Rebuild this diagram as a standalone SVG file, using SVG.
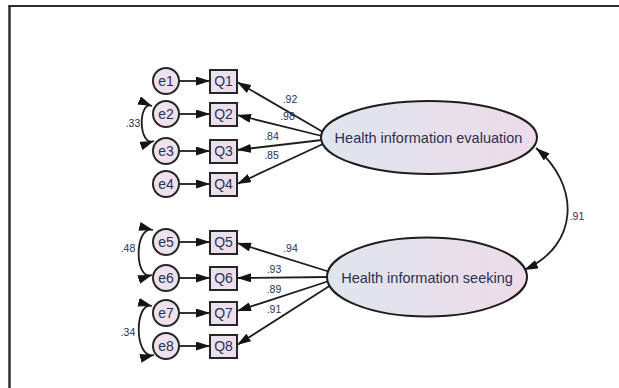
<svg xmlns="http://www.w3.org/2000/svg" width="619" height="388" viewBox="0 0 619 388">
<style>
.obs{fill:url(#gq);stroke:#262626;stroke-width:2}
.err{fill:url(#ge);stroke:#262626;stroke-width:2}
.lat{fill:url(#gl);stroke:#1e1e1e;stroke-width:2}
.nt{font-family:"Liberation Sans",Arial,sans-serif;font-size:14px;fill:#2b3050;text-anchor:middle}
.lt{font-family:"Liberation Sans",Arial,sans-serif;font-size:14.5px;fill:#2b3050;text-anchor:middle}
.el{font-family:"Liberation Sans",Arial,sans-serif;font-size:10.5px;fill:#2b3050;text-anchor:middle}
.cn{fill:none;stroke:#1e1e1e;stroke-width:1.8}
.ar{marker-end:url(#ah)}
.cv{marker-start:url(#ah);marker-end:url(#ah)}
</style>
<defs>
<linearGradient id="gl" x1="0" y1="0" x2="1" y2="0">
<stop offset="0" stop-color="#dfe6ee"/>
<stop offset="1" stop-color="#eddbe9"/>
</linearGradient>
<linearGradient id="gq" x1="0" y1="0" x2="1" y2="0">
<stop offset="0" stop-color="#e7e2ee"/>
<stop offset="1" stop-color="#efdeeb"/>
</linearGradient>
<linearGradient id="ge" x1="0" y1="0" x2="1" y2="0">
<stop offset="0" stop-color="#ece3ef"/>
<stop offset="1" stop-color="#f0e0ee"/>
</linearGradient>
<marker id="ah" viewBox="0 0 14 9" refX="14" refY="4.5" markerWidth="14" markerHeight="9" markerUnits="userSpaceOnUse" orient="auto-start-reverse">
<path d="M0,0 L14,4.5 L0,9 z" fill="#141414"/>
</marker>
</defs>
<rect x="0" y="0" width="619" height="388" fill="#ffffff"/>
<g id="frame" fill="none" stroke="#2e2e2e">
<line x1="8.5" y1="6" x2="619" y2="6" stroke-width="2"/>
<line x1="9.5" y1="5" x2="9.5" y2="388" stroke-width="2.5"/>
</g>
<g id="connectors">
<path class="cn ar" d="M179,81 L210,81"/>
<path class="cn ar" d="M179,114 L210,114"/>
<path class="cn ar" d="M179,151 L210,151"/>
<path class="cn ar" d="M179,184 L210,184"/>
<path class="cn ar" d="M179,242 L210,242"/>
<path class="cn ar" d="M179,278 L210,278"/>
<path class="cn ar" d="M179,313 L210,313"/>
<path class="cn ar" d="M179,346 L210,346"/>
<path class="cn ar" d="M323,132 L237,82"/>
<path class="cn ar" d="M322,136 L237,115"/>
<path class="cn ar" d="M322,140 L237,150"/>
<path class="cn ar" d="M323,144 L237,184"/>
<path class="cn ar" d="M330,272 L237,243"/>
<path class="cn ar" d="M329,277 L237,278"/>
<path class="cn ar" d="M329,281 L237,311"/>
<path class="cn ar" d="M331,285 L237,345"/>
<path class="cn cv" d="M152,106 C138,100 138,147 154,141"/>
<path class="cn cv" d="M153,230 C134,225 134,281 152,275"/>
<path class="cn cv" d="M152,306 C134,301 134,360 154,355"/>
<path class="cn cv" d="M536,148 C580,185 580,245 524,270"/>
<text class="el" x="290" y="102.5">.92</text>
<text class="el" x="287.5" y="120">.98</text>
<text class="el" x="271.5" y="140">.84</text>
<text class="el" x="271.5" y="159">.85</text>
<text class="el" x="133" y="127">.33</text>
<text class="el" x="290.5" y="252">.94</text>
<text class="el" x="274" y="273">.93</text>
<text class="el" x="274" y="292.5">.89</text>
<text class="el" x="274" y="312.5">.91</text>
<text class="el" x="128" y="251.5">.48</text>
<text class="el" x="128" y="336">.34</text>
<text class="el" x="577" y="220">.91</text>
</g>
<g id="e1"><circle class="err" cx="166" cy="81" r="13"/><text class="nt" x="166" y="86">e1</text></g>
<g id="e2"><circle class="err" cx="166" cy="114" r="13"/><text class="nt" x="166" y="119">e2</text></g>
<g id="e3"><circle class="err" cx="166" cy="151" r="13"/><text class="nt" x="166" y="156">e3</text></g>
<g id="e4"><circle class="err" cx="166" cy="184" r="13"/><text class="nt" x="166" y="189">e4</text></g>
<g id="e5"><circle class="err" cx="166" cy="242" r="13"/><text class="nt" x="166" y="247">e5</text></g>
<g id="e6"><circle class="err" cx="166" cy="278" r="13"/><text class="nt" x="166" y="283">e6</text></g>
<g id="e7"><circle class="err" cx="166" cy="313" r="13"/><text class="nt" x="166" y="318">e7</text></g>
<g id="e8"><circle class="err" cx="166" cy="346" r="13"/><text class="nt" x="166" y="351">e8</text></g>
<g id="Q1"><rect class="obs" x="210" y="70" width="27" height="23"/><text class="nt" x="223.5" y="86">Q1</text></g>
<g id="Q2"><rect class="obs" x="210" y="103" width="27" height="23"/><text class="nt" x="223.5" y="119">Q2</text></g>
<g id="Q3"><rect class="obs" x="210" y="140" width="27" height="23"/><text class="nt" x="223.5" y="156">Q3</text></g>
<g id="Q4"><rect class="obs" x="210" y="173" width="27" height="23"/><text class="nt" x="223.5" y="189">Q4</text></g>
<g id="Q5"><rect class="obs" x="210" y="231" width="27" height="23"/><text class="nt" x="223.5" y="247">Q5</text></g>
<g id="Q6"><rect class="obs" x="210" y="267" width="27" height="23"/><text class="nt" x="223.5" y="283">Q6</text></g>
<g id="Q7"><rect class="obs" x="210" y="302" width="27" height="23"/><text class="nt" x="223.5" y="318">Q7</text></g>
<g id="Q8"><rect class="obs" x="210" y="335" width="27" height="23"/><text class="nt" x="223.5" y="351">Q8</text></g>
<g id="evaluation"><ellipse class="lat" cx="429" cy="137.5" rx="108" ry="36.5"/><text class="lt" x="428.5" y="143">Health information evaluation</text></g>
<g id="seeking"><ellipse class="lat" cx="427" cy="277" rx="100" ry="39.5"/><text class="lt" x="427" y="283">Health information seeking</text></g>
</svg>
